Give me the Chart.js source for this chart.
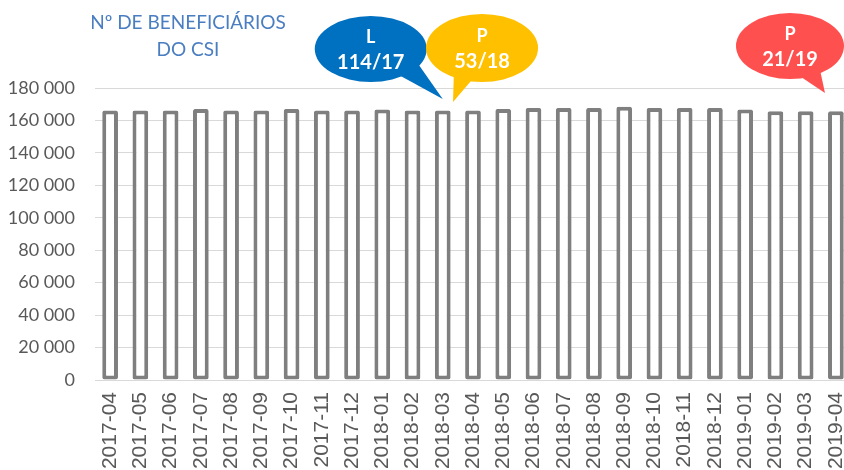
<!DOCTYPE html>
<html>
<head>
<meta charset="utf-8">
<script src="https://cdn.jsdelivr.net/npm/chart.js@4/dist/chart.umd.min.js"></script>
<style>
  html, body { margin: 0; padding: 0; background: #fff; overflow: hidden; }
  canvas { display: block; }
</style>
</head>
<body>
<canvas id="csi-chart" width="852" height="470"></canvas>
<script>
// Meses e número de beneficiários do CSI
const months = [
  '2017-04', '2017-05', '2017-06', '2017-07', '2017-08', '2017-09', '2017-10',
  '2017-11', '2017-12', '2018-01', '2018-02', '2018-03', '2018-04', '2018-05',
  '2018-06', '2018-07', '2018-08', '2018-09', '2018-10', '2018-11', '2018-12',
  '2019-01', '2019-02', '2019-03', '2019-04'
];
const beneficiaries = [
  166100, 166100, 166100, 167100, 166100, 166100, 167100,
  166100, 166100, 166700, 166100, 166100, 166100, 167100,
  167700, 167700, 167700, 168500, 167700, 167700, 167700,
  166700, 165700, 165700, 165700
];
const yTicks = { min: 0, max: 180000, step: 20000 };

const titleLines = ['Nº DE BENEFICIÁRIOS', 'DO CSI'];

// Balões: diploma e número
const calloutHeads = ['L', 'P', 'P'];
const calloutTexts = ['114/17', '53/18', '21/19'];

const fmtThousands = (v) => String(v).replace(/\B(?=(\d{3})+(?!\d))/g, ' ');

// Título e balões desenhados à mão no canvas
const decorPlugin = {
  id: 'decor',
  afterDraw(chart, args, opts) {
    const ctx = chart.ctx;
    const area = chart.chartArea;
    const x = chart.scales.x;

    ctx.save();
    ctx.fillStyle = opts.titleColor;
    ctx.font = opts.titleFont;
    ctx.textAlign = 'center';
    ctx.textBaseline = 'middle';
    titleLines.forEach((line, i) => ctx.fillText(line, opts.titleX, opts.titleY + i * opts.titleGap));

    opts.bubbles.forEach((b, i) => {
      const tipX = x.getPixelForValue(b.at);
      const tipY = area.top + b.tipDy;
      const cx = tipX + b.dx;
      const cy = tipY + b.dy;

      ctx.fillStyle = b.color;
      ctx.beginPath();
      ctx.ellipse(cx, cy, b.rx, b.ry, 0, 0, Math.PI * 2);
      ctx.fill();

      const a1 = b.a1 * Math.PI / 180, a2 = b.a2 * Math.PI / 180;
      ctx.beginPath();
      ctx.moveTo(cx + b.rx * 0.9 * Math.cos(a1), cy + b.ry * 0.9 * Math.sin(a1));
      ctx.lineTo(tipX, tipY);
      ctx.lineTo(cx + b.rx * 0.9 * Math.cos(a2), cy + b.ry * 0.9 * Math.sin(a2));
      ctx.closePath();
      ctx.fill();

      ctx.fillStyle = '#ffffff';
      ctx.font = "bold 18px 'Lato', sans-serif";
      ctx.fillText(calloutHeads[i], cx, cy - 12);
      ctx.font = "bold 20px 'Lato', sans-serif";
      ctx.fillText(calloutTexts[i], cx, cy + 14);
    });
    ctx.restore();
  }
};

new Chart(document.getElementById('csi-chart'), {
  type: 'bar',
  data: {
    labels: months,
    datasets: [{
      label: 'Beneficiários',
      data: beneficiaries,
      backgroundColor: '#ffffff',
      borderColor: '#7f7f7f',
      borderWidth: 4,
      borderSkipped: false,
      borderRadius: 2,
      categoryPercentage: 1,
      barPercentage: 0.52
    }]
  },
  options: {
    responsive: false,
    animation: false,
    layout: { padding: { top: 88, right: 1, left: 0, bottom: 0 } },
    plugins: {
      legend: { display: false },
      tooltip: { enabled: false },
      decor: {
        titleColor: '#4a7ec1',
        titleFont: "19px 'Lato', sans-serif",
        titleX: 188,
        titleY: 23,
        titleGap: 27,
        bubbles: [
          { at: 11, tipDy: 11, dx: -72, dy: -50, rx: 56, ry: 33, a1: 25, a2: 58, color: '#0070c0' },
          { at: 11.34, tipDy: 14, dx: 29, dy: -54, rx: 56, ry: 34, a1: 100, a2: 124, color: '#ffc000' },
          { at: 23.64, tipDy: 5, dx: -35, dy: -47, rx: 54, ry: 33, a1: 52, a2: 80, color: '#ff5050' }
        ]
      }
    },
    scales: {
      x: {
        grid: { display: false, drawTicks: false },
        border: { display: false },
        ticks: {
          autoSkip: false,
          maxRotation: 90,
          minRotation: 90,
          padding: 12,
          color: '#595959',
          font: { family: "'Liberation Sans', Arial, sans-serif", size: 21 }
        },
        afterFit: (scale) => {
          scale.height = 90;
          scale.paddingLeft = 0;
          scale.paddingRight = 0;
        }
      },
      y: {
        min: yTicks.min,
        max: yTicks.max,
        grid: { color: '#d9d9d9', lineWidth: 1, drawTicks: false },
        border: { display: false },
        ticks: {
          stepSize: yTicks.step,
          padding: 20,
          color: '#595959',
          font: { family: "'Lato', sans-serif", size: 18 },
          callback: (v) => fmtThousands(v)
        },
        afterFit: (scale) => { scale.width = 95; }
      }
    }
  },
  plugins: [decorPlugin]
});
</script>
</body>
</html>
